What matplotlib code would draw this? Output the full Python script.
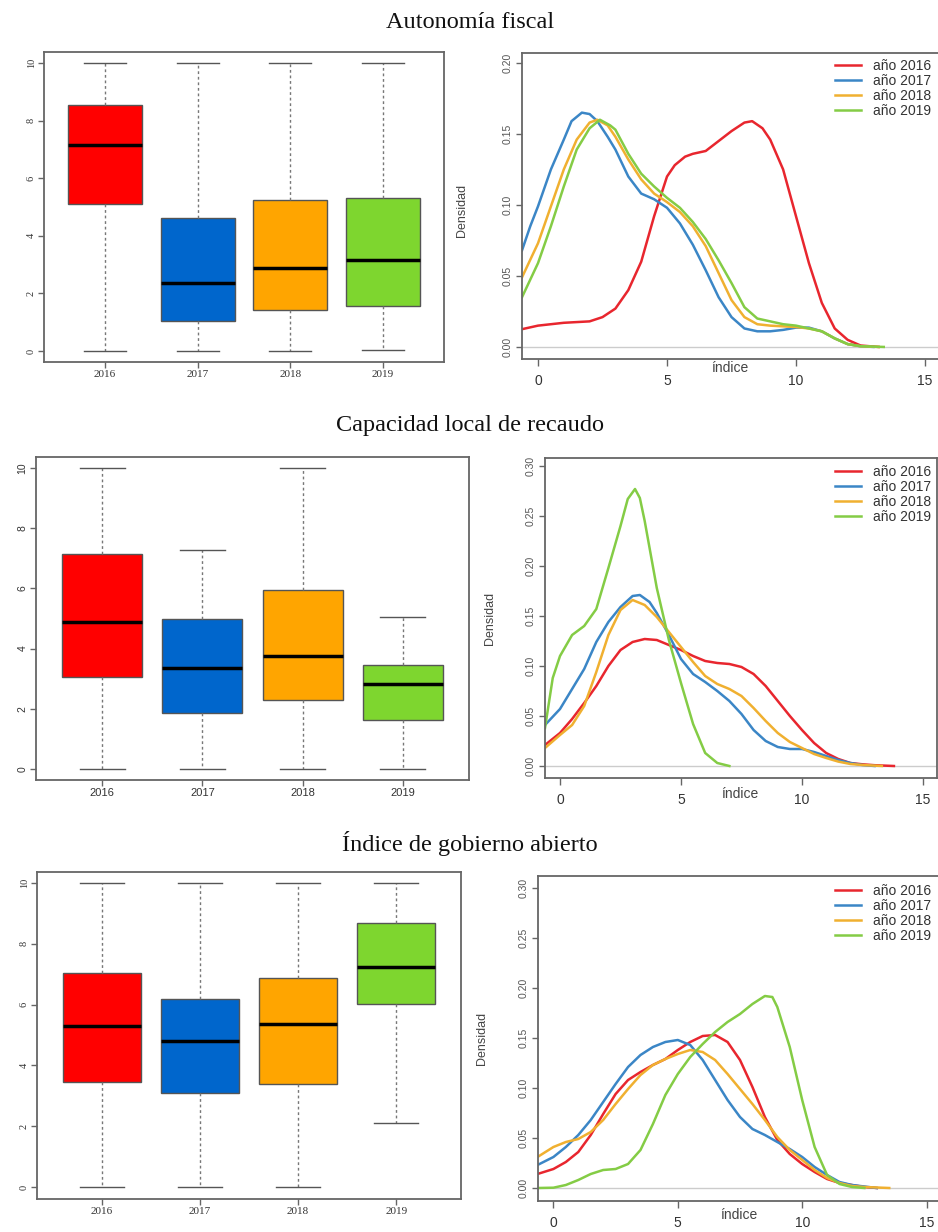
import matplotlib
matplotlib.use('Agg')
import matplotlib.pyplot as plt

W, H = 938, 1232

years = ['2016', '2017', '2018', '2019']
legend_labels = ['año 2016', 'año 2017', 'año 2018', 'año 2019']
box_colors = ['#FF0000', '#0066CC', '#FFA500', '#7ED62F']
line_colors = ['#E8262E', '#3B86C6', '#F0B030', '#84CC45']
titles = ['Autonomía fiscal', 'Capacidad local de recaudo', 'Índice de gobierno abierto']

# boxplot stats: lower whisker, q1, median, q3, upper whisker
af_low = [0.0, 0.0, 0.0, 0.03]
af_q1 = [5.09, 1.03, 1.41, 1.55]
af_med = [7.14, 2.36, 2.88, 3.17]
af_q3 = [8.54, 4.63, 5.23, 5.32]
af_high = [10.0, 10.0, 10.0, 10.0]

cl_low = [0.0, 0.0, 0.0, 0.0]
cl_q1 = [3.06, 1.87, 2.28, 1.61]
cl_med = [4.88, 3.35, 3.76, 2.82]
cl_q3 = [7.16, 4.99, 5.96, 3.46]
cl_high = [10.0, 7.29, 10.0, 5.06]

ga_low = [0.0, 0.0, 0.0, 2.12]
ga_q1 = [3.44, 3.11, 3.40, 6.02]
ga_med = [5.30, 4.80, 5.36, 7.24]
ga_q3 = [7.03, 6.17, 6.86, 8.69]
ga_high = [10.0, 10.0, 10.0, 10.0]

# density curves
af_x16 = [-0.62, 0, 1, 2, 2.5, 3, 3.5, 4, 4.5, 5, 5.3, 5.7, 6, 6.5, 7, 7.5, 8, 8.3, 8.7, 9, 9.5, 10, 10.5, 11, 11.5, 12, 12.5, 13.2]
af_y16 = [0.0125, 0.015, 0.017, 0.018, 0.021, 0.027, 0.040, 0.060, 0.092, 0.120, 0.128, 0.134, 0.136, 0.138, 0.145, 0.152, 0.158, 0.159, 0.154, 0.146, 0.125, 0.092, 0.059, 0.031, 0.013, 0.005, 0.001, 0.0]
af_x17 = [-0.62, -0.3, 0, 0.5, 1, 1.3, 1.7, 2, 2.3, 2.7, 3, 3.5, 4, 4.5, 5, 5.5, 6, 6.5, 7, 7.5, 8, 8.5, 9, 9.5, 10, 10.5, 11, 11.5, 12, 12.5, 13]
af_y17 = [0.068, 0.085, 0.099, 0.125, 0.146, 0.159, 0.165, 0.164, 0.159, 0.148, 0.139, 0.120, 0.108, 0.104, 0.098, 0.087, 0.072, 0.054, 0.035, 0.021, 0.013, 0.011, 0.011, 0.012, 0.0136, 0.0136, 0.011, 0.006, 0.002, 0.0005, 0.0]
af_x18 = [-0.62, 0, 0.5, 1, 1.5, 2, 2.3, 2.7, 3, 3.5, 4, 4.5, 5, 5.5, 6, 6.5, 7, 7.5, 8, 8.5, 9, 10, 10.5, 11, 11.5, 12, 12.5, 13.2]
af_y18 = [0.049, 0.073, 0.099, 0.125, 0.146, 0.158, 0.160, 0.156, 0.148, 0.132, 0.118, 0.108, 0.102, 0.095, 0.085, 0.071, 0.052, 0.033, 0.021, 0.016, 0.015, 0.014, 0.013, 0.011, 0.006, 0.002, 0.0005, 0.0]
af_x19 = [-0.62, 0, 0.5, 1, 1.5, 2, 2.4, 2.8, 3, 3.5, 4, 4.5, 5, 5.5, 6, 6.5, 7, 7.5, 8, 8.5, 9, 9.5, 10, 10.5, 11, 11.5, 12, 12.5, 13.4]
af_y19 = [0.035, 0.059, 0.085, 0.113, 0.139, 0.154, 0.160, 0.156, 0.153, 0.136, 0.122, 0.113, 0.105, 0.098, 0.088, 0.076, 0.061, 0.045, 0.028, 0.020, 0.018, 0.016, 0.015, 0.013, 0.011, 0.006, 0.002, 0.0005, 0.0]

cl_x16 = [-0.62, 0, 0.5, 1, 1.5, 2, 2.5, 3, 3.5, 4, 4.5, 5, 5.5, 6, 6.5, 7, 7.5, 8, 8.5, 9, 9.5, 10, 10.5, 11, 11.5, 12, 12.5, 13, 13.8]
cl_y16 = [0.021, 0.033, 0.047, 0.063, 0.080, 0.100, 0.116, 0.124, 0.127, 0.126, 0.121, 0.116, 0.110, 0.105, 0.103, 0.102, 0.099, 0.092, 0.080, 0.065, 0.050, 0.036, 0.023, 0.013, 0.007, 0.003, 0.0017, 0.0008, 0.0]
cl_x17 = [-0.62, 0, 0.5, 1, 1.5, 2, 2.5, 3, 3.3, 3.7, 4, 4.5, 5, 5.5, 6, 6.5, 7, 7.5, 8, 8.5, 9, 9.5, 10, 10.5, 11, 11.5, 12, 12.5, 13]
cl_y17 = [0.041, 0.057, 0.077, 0.097, 0.124, 0.144, 0.159, 0.170, 0.171, 0.164, 0.153, 0.131, 0.107, 0.092, 0.084, 0.075, 0.065, 0.052, 0.036, 0.025, 0.019, 0.017, 0.017, 0.014, 0.010, 0.006, 0.003, 0.001, 0.0]
cl_x18 = [-0.62, 0, 0.5, 1, 1.5, 2, 2.5, 3, 3.5, 4, 4.5, 5, 5.5, 6, 6.5, 7, 7.5, 8, 8.5, 9, 9.5, 10, 10.5, 11, 11.5, 12, 12.5, 13.3]
cl_y18 = [0.018, 0.031, 0.041, 0.060, 0.094, 0.131, 0.156, 0.166, 0.161, 0.149, 0.134, 0.119, 0.104, 0.090, 0.082, 0.077, 0.070, 0.058, 0.045, 0.033, 0.024, 0.018, 0.012, 0.008, 0.0044, 0.002, 0.001, 0.0]
cl_x19 = [-0.62, -0.3, 0, 0.5, 1, 1.5, 2, 2.5, 2.8, 3.1, 3.3, 3.5, 4, 4.5, 5, 5.5, 6, 6.5, 7]
cl_y19 = [0.038, 0.088, 0.110, 0.131, 0.140, 0.157, 0.198, 0.240, 0.267, 0.277, 0.268, 0.245, 0.178, 0.126, 0.083, 0.042, 0.013, 0.003, 0.0]

ga_x16 = [-0.64, 0, 0.5, 1, 1.5, 2, 2.5, 3, 3.5, 4, 4.5, 5, 5.5, 6, 6.5, 7, 7.5, 8, 8.5, 9, 9.5, 10, 10.5, 11, 11.5, 12, 12.5, 13]
ga_y16 = [0.014, 0.019, 0.026, 0.036, 0.053, 0.074, 0.094, 0.108, 0.116, 0.123, 0.129, 0.138, 0.146, 0.152, 0.153, 0.146, 0.128, 0.101, 0.071, 0.048, 0.034, 0.024, 0.016, 0.009, 0.005, 0.003, 0.001, 0.0]
ga_x17 = [-0.64, 0, 0.5, 1, 1.5, 2, 2.5, 3, 3.5, 4, 4.5, 5, 5.5, 6, 6.5, 7, 7.5, 8, 8.5, 9, 9.5, 10, 10.5, 11, 11.5, 12, 13]
ga_y17 = [0.023, 0.031, 0.041, 0.053, 0.068, 0.086, 0.104, 0.121, 0.133, 0.141, 0.146, 0.148, 0.143, 0.128, 0.108, 0.088, 0.071, 0.059, 0.053, 0.046, 0.039, 0.031, 0.021, 0.013, 0.006, 0.003, 0.0]
ga_x18 = [-0.64, 0, 0.5, 1, 1.5, 2, 2.5, 3, 3.5, 4, 4.5, 5, 5.5, 6, 6.5, 7, 7.5, 8, 8.5, 9, 9.5, 10, 10.5, 11, 11.5, 12, 12.5, 13.5]
ga_y18 = [0.031, 0.041, 0.046, 0.049, 0.056, 0.068, 0.084, 0.099, 0.113, 0.123, 0.129, 0.134, 0.138, 0.136, 0.128, 0.114, 0.099, 0.084, 0.068, 0.051, 0.038, 0.028, 0.018, 0.010, 0.005, 0.002, 0.001, 0.0]
ga_x19 = [-0.64, 0, 0.5, 1, 1.5, 2, 2.5, 3, 3.5, 4, 4.5, 5, 5.5, 6, 6.5, 7, 7.5, 8, 8.5, 8.8, 9, 9.5, 10, 10.5, 11, 11.5, 12, 12.5]
ga_y19 = [0.0, 0.0003, 0.003, 0.008, 0.014, 0.018, 0.019, 0.024, 0.038, 0.064, 0.093, 0.114, 0.131, 0.144, 0.156, 0.166, 0.174, 0.184, 0.192, 0.191, 0.181, 0.141, 0.088, 0.041, 0.013, 0.004, 0.001, 0.0]

box_data = [
    (af_low, af_q1, af_med, af_q3, af_high),
    (cl_low, cl_q1, cl_med, cl_q3, cl_high),
    (ga_low, ga_q1, ga_med, ga_q3, ga_high),
]
dens_data = [
    [(af_x16, af_y16), (af_x17, af_y17), (af_x18, af_y18), (af_x19, af_y19)],
    [(cl_x16, cl_y16), (cl_x17, cl_y17), (cl_x18, cl_y18), (cl_x19, cl_y19)],
    [(ga_x16, ga_y16), (ga_x17, ga_y17), (ga_x18, ga_y18), (ga_x19, ga_y19)],
]

# layout in pixels (left, top, right, bottom)
box_rects = [(44, 52, 444, 362), (36, 457, 469, 780), (37, 872, 461, 1199)]
box_ylims = [(-0.38, 10.38), (-0.37, 10.37), (-0.39, 10.36)]
box_fonts = ['Liberation Serif', 'Liberation Sans', 'Liberation Serif']
dens_rects = [(522, 53, 940, 359), (545, 458, 937, 778), (538, 876, 941, 1201)]
dens_ylims = [(-0.0085, 0.207), (-0.012, 0.308), (-0.013, 0.312)]
dens_yticks = [[0, 0.05, 0.10, 0.15, 0.20], [0, 0.05, 0.10, 0.15, 0.20, 0.25, 0.30],
               [0, 0.05, 0.10, 0.15, 0.20, 0.25, 0.30]]
title_y = [22, 425, 843]
ylab_pos = [(462, 210), (490, 618), (482, 1038)]
xlab_pos = [(730, 368), (740, 794), (739, 1215)]
leg_tops = [59, 465, 884]

fig = plt.figure(figsize=(W / 100, H / 100), dpi=100)


def add_ax(rect):
    l, t, r, b = rect
    return fig.add_axes([l / W, 1 - b / H, (r - l) / W, (b - t) / H])


frame_col = '#666666'

for i in range(3):
    fig.text(470 / W, 1 - title_y[i] / H, titles[i], ha='center', va='center',
             fontsize=17.5, family='Liberation Serif', color='#111111')

    # boxplot
    ax = add_ax(box_rects[i])
    lo, q1, med, q3, hi = box_data[i]
    stats = []
    for k in range(4):
        stats.append({'whislo': lo[k], 'q1': q1[k], 'med': med[k], 'q3': q3[k],
                      'whishi': hi[k], 'fliers': [], 'label': years[k]})
    bp = ax.bxp(stats, positions=[1, 2, 3, 4], widths=0.8, capwidths=0.45,
                patch_artist=True, showfliers=False,
                boxprops=dict(edgecolor='#555555', linewidth=1),
                whiskerprops=dict(color='#777777', linewidth=1, linestyle=(0, (2, 2))),
                capprops=dict(color='#555555', linewidth=1),
                medianprops=dict(color='black', linewidth=2.5))
    for patch, c in zip(bp['boxes'], box_colors):
        patch.set_facecolor(c)
    ax.set_xlim(0.34, 4.66)
    ax.set_ylim(*box_ylims[i])
    ax.set_yticks([0, 2, 4, 6, 8, 10])
    ax.set_yticklabels(['0', '2', '4', '6', '8', '10'], rotation=90, va='center',
                       fontsize=7.5, family=box_fonts[i], color='#333333')
    ax.set_xticks([1, 2, 3, 4])
    ax.set_xticklabels(years, fontsize=8, family=box_fonts[i], color='#333333')
    ax.tick_params(length=4, color=frame_col, width=1, pad=2)
    for s in ax.spines.values():
        s.set_color(frame_col)
        s.set_linewidth(1.3)

    # density
    ax = add_ax(dens_rects[i])
    ax.axhline(0, color='#cccccc', linewidth=1)
    for (x, y), c, lab in zip(dens_data[i], line_colors, legend_labels):
        ax.plot(x, y, color=c, linewidth=1.8, label=lab)
    ax.set_xlim(-0.62, 15.58)
    ax.set_ylim(*dens_ylims[i])
    ax.set_xticks([0, 5, 10, 15])
    ax.set_xticklabels(['0', '5', '10', '15'], fontsize=10, family='Liberation Sans', color='#333333')
    ax.set_yticks(dens_yticks[i])
    ax.set_yticklabels(['%.2f' % v for v in dens_yticks[i]], rotation=90, va='center',
                       fontsize=7.5, family='Liberation Sans', color='#555555')
    ax.tick_params(axis='x', length=5, color=frame_col, width=1, pad=6)
    ax.tick_params(axis='y', length=4, color=frame_col, width=1, pad=3)
    for s in ax.spines.values():
        s.set_color(frame_col)
        s.set_linewidth(1.3)
    leg = ax.legend(loc='upper left', bbox_to_anchor=(835 / W, 1 - leg_tops[i] / H),
                    bbox_transform=fig.transFigure, frameon=False,
                    handlelength=1.9, handletextpad=0.85, labelspacing=0.08,
                    borderaxespad=0, borderpad=0,
                    prop={'family': 'Liberation Sans', 'size': 10})
    for t in leg.get_texts():
        t.set_color('#333333')
    fig.text(ylab_pos[i][0] / W, 1 - ylab_pos[i][1] / H, 'Densidad', rotation=90,
             ha='center', va='center', fontsize=9, family='Liberation Sans', color='#444444')
    fig.text(xlab_pos[i][0] / W, 1 - xlab_pos[i][1] / H, 'índice', ha='center', va='center',
             fontsize=10, family='Liberation Sans', color='#444444')

fig.savefig('out.png', dpi=100)
